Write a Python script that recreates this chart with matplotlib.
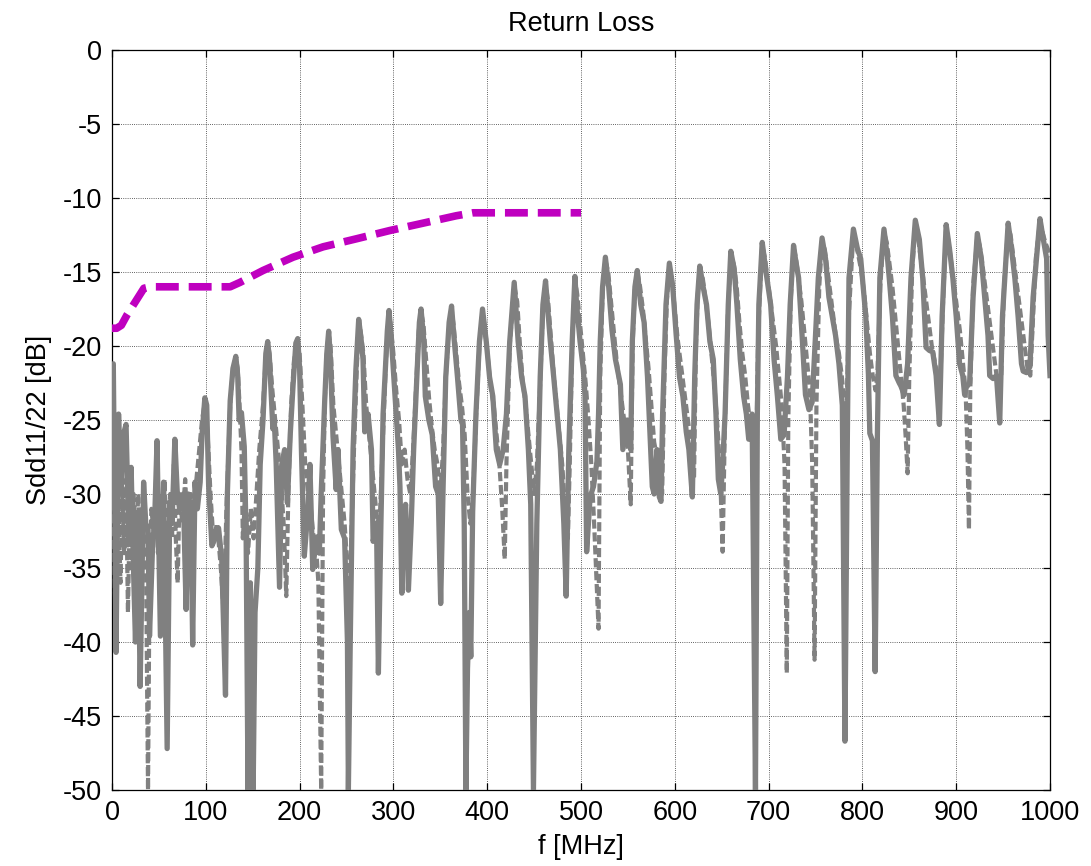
import numpy as np
import matplotlib
matplotlib.use("Agg")
import matplotlib.pyplot as plt

plt.rcParams['font.family'] = ['Liberation Sans', 'DejaVu Sans']

# ---- data ----
title = "Return Loss"
xlabel = "f [MHz]"
ylabel = "Sdd11/22 [dB]"
xticks = list(range(0, 1001, 100))
yticks = list(range(-50, 1, 5))

limit_f = [0, 5, 10, 16, 23, 30, 34, 41, 126, 136.5, 161, 193, 225, 261, 296, 331.6, 367, 385, 400, 500]
limit_db = [-18.8, -18.8, -18.6, -17.9, -17.2, -16.5, -16.1, -16.0, -16.0, -15.7, -14.9, -14.0, -13.3,
            -12.75, -12.2, -11.7, -11.2, -11.0, -11.0, -11.0]

solid_pts = [
    (0, -21.3), (1.4, -21.2), (4.3, -40.7), (7, -24.6), (9.7, -30), (12, -26), (15, -25.3), (17.9, -33),
    (20.4, -28.2), (22.5, -34), (25, -40), (27.6, -31.4), (30, -43), (33.7, -29.2), (36, -32), (38.4, -32.3),
    (40, -39.6), (43, -34), (45.5, -31.7), (48, -26.4), (51.6, -39.6), (55, -29.2), (58.8, -47.2), (61.6, -30.5),
    (64, -32), (67, -26.3), (69.5, -29.8), (72, -31), (76, -30), (79, -37.8), (81.4, -30), (84, -31), (86, -40.2),
    (88.5, -29.2), (91, -31), (94, -29.2), (96, -26), (99, -23.5), (101, -24), (103, -29.4), (106.5, -33.5),
    (110, -33), (113.6, -32.3), (117, -34.4), (121, -43.6), (123, -30), (126, -23.7), (129, -21.5), (132, -20.7),
    (134, -22), (135.5, -25), (138, -24.5), (141, -26.8), (143, -33), (145, -50), (147.5, -36), (150.5, -50),
    (152.5, -38), (155.5, -35), (158, -28), (161, -25), (164, -20.5), (166, -19.7), (168, -21), (171.5, -25.6),
    (173, -25), (175, -27.9), (178.6, -36.3), (181, -28), (184, -27), (187, -30.6), (190, -26), (193, -22.7),
    (196, -19.8), (198, -19.5), (200, -21.5), (202, -27.2), (205, -34.2), (209, -31), (211, -28), (214, -35.1),
    (218, -32.9), (221, -34), (223, -30), (226.7, -23.8), (229, -20.5), (231, -19), (233, -21), (235.6, -26.1),
    (239, -29.7), (241, -27), (244.5, -32.4), (248, -33), (251, -40), (252, -50), (254, -40), (257, -27),
    (260, -21.6), (263, -18.2),
    (265.5, -19.5), (267.6, -20.9), (269.4, -25.8), (273, -24.6), (276.6, -27), (278.4, -33.2), (282, -32),
    (284, -42.1), (286.7, -32), (289, -24.6), (291, -22.1), (293.5, -19), (295.3, -17.6),
    (298, -19.7), (301.8, -23.4), (305.4, -27), (307, -29.5), (309, -36.7), (310.8, -32), (313, -30.7),
    (316, -36.5), (319, -32), (321.6, -27), (325, -22.1), (327.7, -18.4), (329.5, -17.5),
    (332.4, -19.7), (334, -23.4), (337.8, -25), (341.4, -26), (345, -29.5), (347.8, -30), (350.4, -37.4),
    (353, -29.5), (355.8, -22.1), (359.4, -18.4), (362, -17.3),
    (364.7, -19.5), (368.3, -22.1), (372, -25), (373.7, -25.3), (375.5, -32), (377.3, -50), (379, -41.8),
    (381, -38), (382.5, -41), (384.5, -31.2), (388, -24.6), (391.7, -19.7), (395, -17.5),
    (399, -19.7), (402.5, -22.1), (406, -23.4), (409.7, -27), (413.3, -28), (417, -27), (420.5, -24.6),
    (424, -19.7), (428.8, -15.7),
    (433, -19.7), (436.7, -22.1), (440.3, -23.4), (443.9, -27), (446.4, -30.7), (449.3, -50), (452.9, -32),
    (456.5, -22.1), (459.4, -17.2), (462.2, -15.6),
    (467.3, -19.7), (470.9, -22.1), (474.5, -24.6), (478, -27), (481.7, -32), (484.2, -36.9), (487, -27),
    (490.6, -19.7), (493.5, -15.3),
    (495.3, -17.2), (499, -19.7), (502.5, -21.6), (504.3, -23.4), (506, -33.9), (509.7, -30.2), (513.3, -29.5),
    (517, -27.8), (518.7, -24.6), (520.5, -19.7), (523, -16), (526, -14),
    (529.5, -16), (533, -18.9), (536.7, -20.9), (542, -22.6), (544.6, -27), (549.3, -25), (553, -27),
    (554.7, -19.7), (557.5, -16), (560, -14.9),
    (563.7, -17.2), (567.3, -18.4), (570.9, -22.1), (573.4, -25.8), (576, -29.5), (578, -30), (581, -27),
    (583.5, -30.2), (585.3, -30.5), (587, -24.6), (590.6, -17.2), (594.2, -14.4),
    (597.8, -16), (601.4, -19.2), (605, -22.1), (608.6, -23.4), (612.2, -25.8), (615, -27), (618.7, -30.2),
    (621.2, -22.1), (623.7, -17.2), (626.6, -14.6),
    (630.2, -16), (633.8, -17.2), (637.4, -19.7), (641, -20.9), (643.9, -24.6), (646.4, -29), (649, -30),
    (651, -28), (653.6, -24.6), (657, -17.2), (659.7, -13.6),
    (663.3, -14.8), (666.2, -17.2), (669.8, -20.9), (673.4, -23.4), (676.3, -24.6), (678.8, -26.3),
    (682.4, -24.6), (686, -50), (688, -24.6), (689.6, -17.2), (693.2, -13),
    (696.8, -14.8), (702.2, -17.2), (705.8, -20.9), (709.4, -23.4), (713, -26.3), (716.5, -26), (720.1, -22.1),
    (723, -17.2), (726.6, -13.2),
    (728.6, -14.1), (732, -15.4), (735.7, -19.3), (739.3, -23.3), (743, -24.3), (746.4, -23.8), (750, -19.3),
    (753, -15.4), (757, -12.7),
    (760.7, -14.1), (764.3, -16.7), (767.9, -18), (771.4, -19.3), (775, -21.2), (778.6, -24), (781.4, -46.7),
    (784, -25.9), (785.7, -15.4), (790.4, -12.1),
    (794.6, -13.4), (798.2, -14.1), (801.8, -16.7), (803.6, -18), (806.4, -21.9), (807.9, -25.9),
    (810.7, -26.4), (813.6, -42), (816, -25.9), (818.6, -15.4), (823, -12.1),
    (826.8, -14.1), (828.6, -15.4), (832, -18), (835.7, -22), (839.3, -22.5), (841, -22.7), (844.6, -23.3),
    (848.2, -21.2), (851.8, -15.4), (856.4, -11.5),
    (860.7, -12.8), (864.3, -15.4), (867.9, -20.1), (871.4, -20.3), (875, -20.4), (878.6, -22), (882.1, -25.3),
    (885, -18), (889.3, -11.8),
    (892.8, -13.4), (896.4, -15.4), (900, -18), (903.6, -21.2), (907, -22), (909, -23.3), (910.7, -22.8),
    (914.3, -22.5), (918, -16.7), (922.5, -12.4),
    (926.8, -14.1), (930.4, -16.7), (933.9, -19.3), (935.7, -22), (939.3, -22.2), (942.9, -22), (946.4, -25.2),
    (949.3, -18), (955.4, -11.7),
    (958.9, -13.4), (962.5, -15.4), (966, -18), (969.6, -21.2), (971.4, -21.7), (975, -21.8), (978.6, -21.4),
    (982, -16.7), (989.3, -11.4),
    (992.9, -12.8), (996.4, -14.1), (998, -19.3), (1000, -22),
]

dashed_pts = [
    (0, -27), (2, -31), (3.5, -38), (5, -28), (7, -31), (9, -36), (11, -30), (13, -34), (15, -29), (17, -38),
    (19, -31), (21, -35), (23, -30), (26, -33), (28, -30), (31, -34), (34, -31), (36, -33), (38.4, -50),
    (40, -36), (42, -31), (45, -33), (47, -29), (49, -34), (51, -30), (53, -33), (56, -29), (59, -35), (62, -30),
    (64, -33), (66, -28), (68, -33), (70, -36), (72, -30), (75, -32), (78, -29), (81, -33), (84, -30), (87, -32),
    (90, -29), (93, -27), (96, -25), (99, -23.8), (102, -26), (105, -30), (108, -33), (112, -32), (116, -35),
    (119, -38), (122, -31), (126, -24), (129, -21.5), (132, -20.8),
    (134, -21.5), (136, -24), (138, -27), (139.5, -33), (142, -30), (145, -34), (148, -31), (151, -33),
    (154, -30), (157, -27), (161, -24), (164, -20.7), (166, -19.8), (168, -20.5), (171, -23), (174, -25),
    (177, -27), (180, -29), (183, -32), (185.8, -36.9), (188, -30), (191, -24), (194, -21), (198, -19.6),
    (200, -20.5), (203, -24), (206, -28), (209, -30), (212, -31), (215, -33), (218, -34), (220, -36),
    (223, -50), (225, -30), (227, -23.5), (229, -20.6), (231, -19.2), (233, -20), (236, -24), (239, -26),
    (242, -28), (245, -30), (248, -32), (251, -35), (253, -38.5), (255, -33), (258, -27), (261, -21.5),
    (263, -18.4),
    (265, -19), (268, -20.5), (271, -24), (274, -26), (277, -28), (280, -30), (283, -32), (286, -31), (289, -26),
    (292, -21), (295.3, -17.8),
    (297, -18.5), (300, -20.5), (303, -23), (306, -25), (309, -28), (312, -27), (315, -29), (318, -30),
    (321, -27), (324, -23), (327, -19), (329.5, -17.7),
    (332, -18.5), (335, -21), (338, -23.5), (341, -25.5), (344, -27), (347, -28), (350, -30), (353, -27),
    (356, -22), (359, -19), (362, -17.5),
    (364, -18.5), (367, -20.5), (370, -22.5), (373, -24), (376, -26), (379, -30), (382, -32), (385, -30),
    (388, -25), (391.7, -20), (395, -17.7),
    (398, -19), (401, -21), (404, -23), (407, -24), (410, -26), (413, -28), (416, -31), (418.7, -34.4),
    (420.5, -28), (424, -20), (428.8, -15.9),
    (432, -17), (435, -20), (438, -22.5), (441, -24), (444, -26), (447, -28), (450, -30), (453, -28),
    (456.5, -22.5), (459.4, -17.5), (462.2, -15.8),
    (465, -17), (468, -19.5), (471, -22), (474, -24), (477, -26), (480, -28), (483, -31), (486, -33), (488, -28),
    (490.6, -20), (493.5, -15.5),
    (496, -16.5), (499, -18.5), (502, -20.5), (505, -22.5), (508, -25), (511, -28), (514, -32), (516, -35),
    (518.7, -39.1), (520.5, -22), (523, -16.5), (526, -14.2),
    (529, -15), (532, -17), (535, -19), (538, -21), (541, -22.5), (544, -24), (547, -25.5), (550, -27),
    (553, -30.7), (555, -20), (557.5, -16), (560, -15),
    (563, -16), (566, -17.5), (569, -19.5), (572, -21.5), (575, -24), (578, -26.5), (581, -27.5), (584, -29),
    (586.5, -30), (589, -22), (591.5, -17), (594, -14.5),
    (597, -15.5), (600, -17.5), (603, -19.5), (606, -21), (609, -22.5), (612, -24), (615, -25.5), (618, -27.5),
    (620.5, -29), (622.5, -20), (624.5, -16.5), (627, -14.7),
    (630, -15.5), (633, -17), (636, -18.5), (639, -20.5), (642, -22.5), (645, -25), (648, -28), (651, -33.9),
    (653.5, -25), (656.5, -18), (659.7, -13.8),
    (663, -14.5), (666, -16), (669, -18.5), (672, -20.5), (675, -22), (678, -24), (681, -25.5), (684, -27),
    (686.5, -28), (689, -19), (693, -13.2),
    (696, -14), (699, -15.5), (702, -17), (705, -18.5), (708, -20), (711, -22), (714, -24), (717, -28),
    (719.4, -42.1), (721, -25), (723.5, -17), (726.6, -13.3),
    (729, -14), (732, -15.5), (735, -17), (738, -19), (741, -21), (744, -23), (746.5, -28), (749, -41.2),
    (751, -24), (754, -16), (757, -12.9),
    (760, -13.5), (763, -15), (766, -16.5), (769, -18), (772, -19.5), (775, -20.5), (778, -22), (781, -24),
    (783, -25), (785.5, -18), (790.4, -12.3),
    (793, -13), (796, -14), (799, -15), (802, -16.5), (805, -18.5), (808, -20.5), (811, -22), (814, -23),
    (816, -22), (819, -16), (823, -12.3),
    (826, -13), (829, -14.5), (832, -16), (835, -18), (838, -20), (841, -22), (844, -24), (846, -26),
    (848.2, -28.6), (850, -22), (853, -15), (856.4, -11.7),
    (859, -12.5), (862, -14), (865, -15.5), (868, -17), (871, -18.5), (874, -20), (877, -21), (880, -22),
    (883, -22.5), (886, -17), (889.3, -12),
    (892, -13), (895, -14.5), (898, -16), (901, -17.5), (904, -19), (907, -21), (910, -23), (912, -27),
    (913.6, -32.4), (915, -23), (918, -16), (922.5, -12.6),
    (925, -13.2), (928, -14.5), (931, -16), (934, -17.5), (937, -19), (940, -20.5), (943, -22), (946, -23.5),
    (948, -22), (951, -16), (955.4, -11.9),
    (958, -12.5), (961, -14), (964, -15.5), (967, -17), (970, -18.5), (973, -20), (976, -21.5), (979, -22),
    (982, -18), (985, -14), (989.3, -11.6),
    (992, -12.3), (995, -13), (998, -13.5), (1000, -14),
]

solid_f, solid_db = np.array(solid_pts).T
dashed_f, dashed_db = np.array(dashed_pts).T

# ---- figure ----
fig = plt.figure(figsize=(10.91, 8.66), dpi=100)
ax = fig.add_axes([112 / 1091, 1 - 790 / 866, (1050 - 112) / 1091, (790 - 50) / 866])

gray = '#808080'
ax.plot(solid_f, solid_db, color=gray, lw=3.8, solid_joinstyle='round', zorder=3)
ax.plot(dashed_f, dashed_db, color=gray, lw=3.0, linestyle=(0, (2.2, 0.9)), zorder=3)
ax.plot(limit_f, limit_db, color='#BF00BF', lw=5.5, linestyle=(0, (3.0, 1.3)), zorder=4)

ax.set_xlim(0, 1000)
ax.set_ylim(-50, 0)
ax.set_xticks(xticks)
ax.set_yticks(yticks)
ax.set_xticklabels([str(t) for t in xticks])
ax.set_yticklabels([str(t) for t in yticks])
ax.grid(True, color='#303030', linestyle=(0, (1, 1.6)), linewidth=0.6)
ax.set_axisbelow(True)
ax.tick_params(direction='in', length=5, width=0.9, top=True, right=True,
               labelsize=19.5, colors='black', pad=7)
for s in ax.spines.values():
    s.set_linewidth(0.9)
    s.set_color('black')

ax.set_title(title, fontsize=19.5, pad=14)
ax.set_xlabel(xlabel, fontsize=19.5, labelpad=6)
ax.set_ylabel(ylabel, fontsize=19.5, labelpad=8)

fig.savefig('out.png', dpi=100)
